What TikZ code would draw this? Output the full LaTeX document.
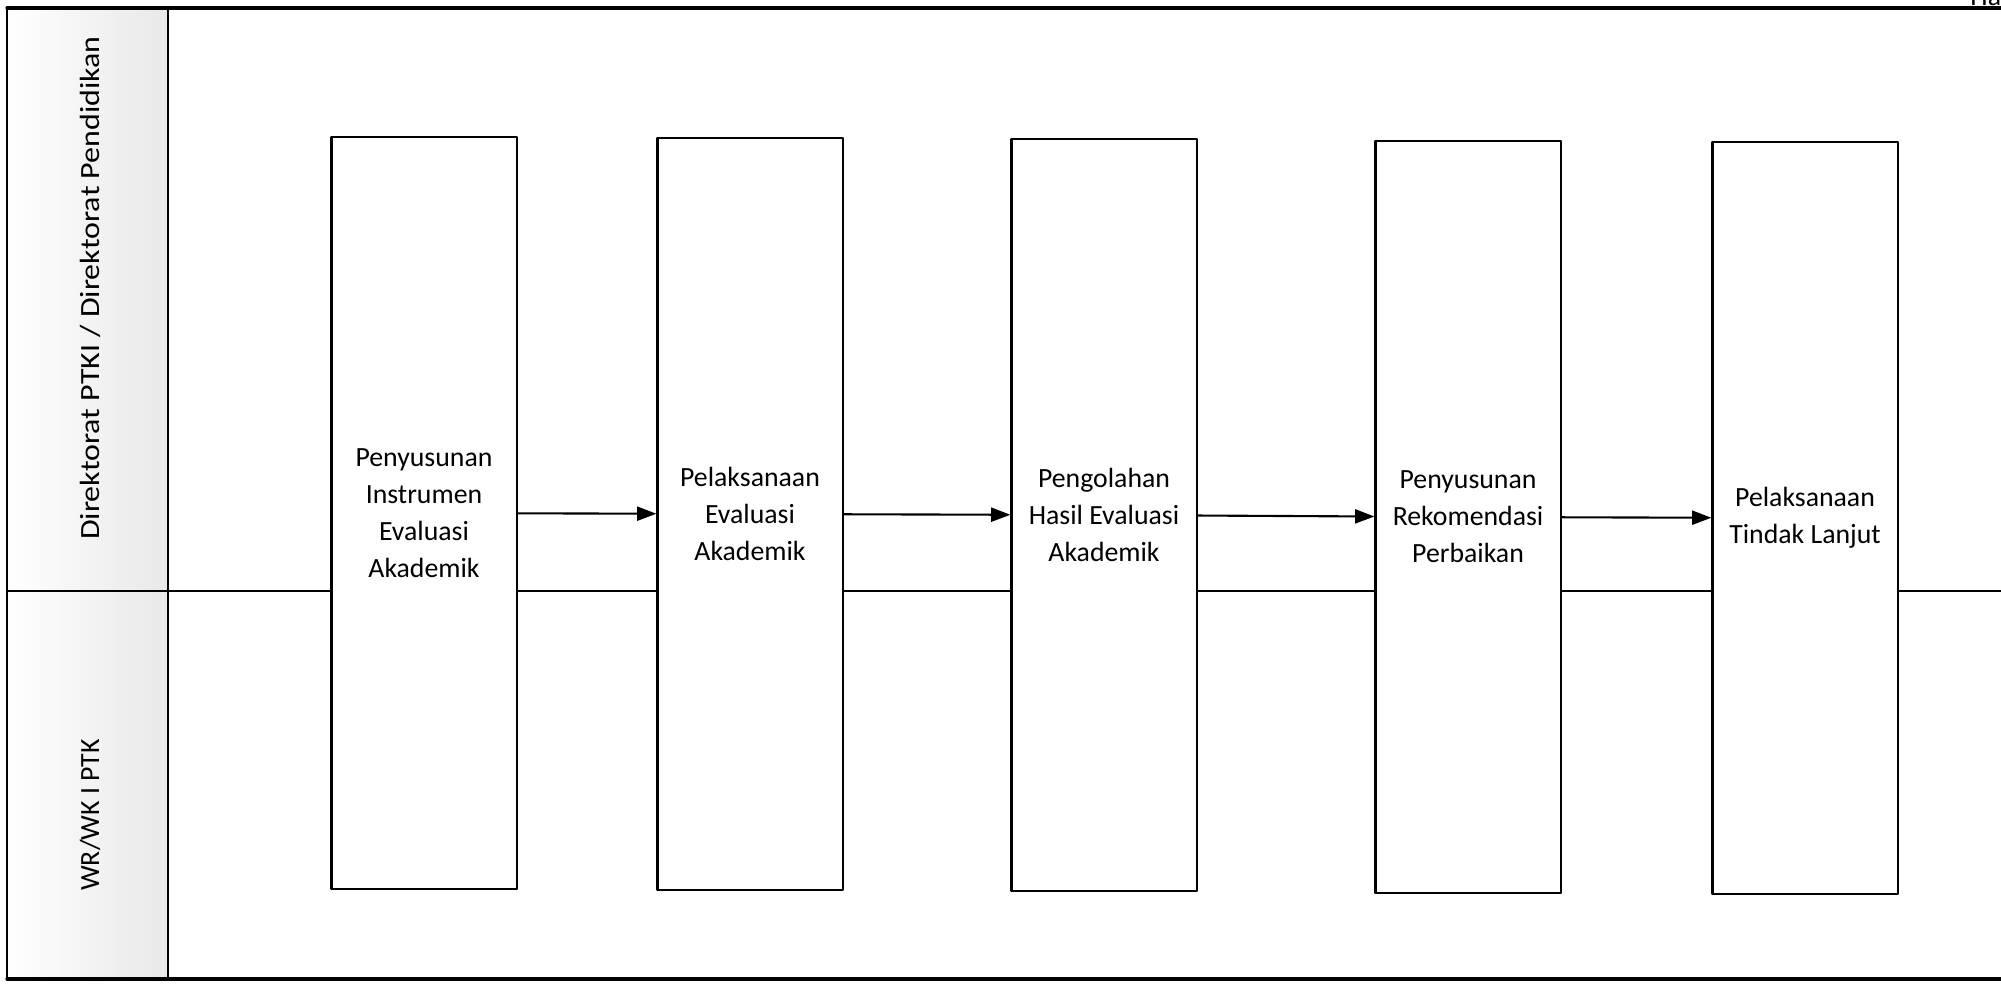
\documentclass[tikz,border=0pt]{standalone}
\usepackage{fontspec}
\setmainfont{Carlito}
\usetikzlibrary{arrows.meta}
\begin{document}
\begin{tikzpicture}[x=0.01cm, y=-0.01cm, line join=round, line cap=round,
	>={Triangle[length=5.5pt,width=4pt]},
	font=\fontsize{7.9}{10.5}\selectfont,
	proses/.style={draw, line width=.6pt, fill=white, minimum width=1.85cm, minimum height=7.52cm, align=center, inner sep=1pt},
	garis/.style={line width=.6pt}]
	\useasboundingbox (0,0) rectangle (2001,984);
	% kolom nama lane
	\shade[left color=white, right color=gray!18] (7,8) rectangle (168,979);
	\draw[line width=.9pt] (7,8) -- (2001,8) (7,979) -- (2001,979);
	\draw[garis] (7,8) -- (7,979) (168,8) -- (168,979);
	\draw[garis] (7,591) -- (2001,591);
	\node[rotate=90, xscale=1.15] (lanedir) at (90,288) {Direktorat PTKI / Direktorat Pendidikan};
	\node[rotate=90] (lanewr) at (90,815) {WR/WK I PTK};
	\node[anchor=base west] (hal) at (1958,5) {Has};
	% proses
	\node[proses] (p1) at (424,513) {Penyusunan\\Instrumen\\Evaluasi\\Akademik};
	\node[proses] (p2) at (750,514) {Pelaksanaan\\Evaluasi\\Akademik};
	\node[proses] (p3) at (1104,515) {Pengolahan\\Hasil Evaluasi\\Akademik};
	\node[proses] (p4) at (1468,517) {Penyusunan\\Rekomendasi\\Perbaikan};
	\node[proses] (p5) at (1805,518) {Pelaksanaan\\Tindak Lanjut};
	\foreach \a/\b in {p1/p2, p2/p3, p3/p4, p4/p5}
		\draw[garis, ->] (\a) -- (\b);
\end{tikzpicture}
\end{document}
